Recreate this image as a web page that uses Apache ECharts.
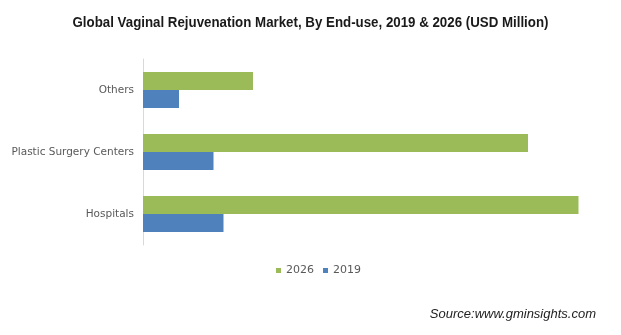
<!DOCTYPE html>
<html>
<head>
<meta charset="utf-8">
<script src="https://cdn.jsdelivr.net/npm/echarts@6/dist/echarts.min.js"></script>
<style>html,body{margin:0;padding:0;background:#fff;}#c{width:621px;height:335px;}</style>
</head>
<body>
<div id="c"></div>
<script>
var titleText = 'Global Vaginal Rejuvenation Market, By End-use, 2019 & 2026 (USD Million)';
var sourceText = 'Source:www.gminsights.com';
var categories = ['Hospitals', 'Plastic Surgery Centers', 'Others'];
var seriesNames = ['2026', '2019'];
var values2026 = [435.5, 385, 110];
var values2019 = [80.5, 70.5, 36];

var chart = echarts.init(document.getElementById('c'), null, {renderer: 'canvas'});
chart.setOption({
  animation: false,
  backgroundColor: '#fff',
  graphic: [{
    type: 'text',
    x: 310.5,
    y: 30.5,
    scaleX: 0.95,
    style: {text: titleText, font: "bold 14px 'Liberation Sans', Arial, sans-serif", fill: '#1a1a1a', align: 'center', verticalAlign: 'bottom'}
  }, {
    type: 'text',
    x: 596,
    y: 321,
    style: {text: sourceText, font: "italic 13px 'Liberation Sans', Arial, sans-serif", fill: '#222', align: 'right', verticalAlign: 'bottom'}
  }],
  legend: {
    data: seriesNames,
    left: 271,
    top: 260,
    itemWidth: 5,
    itemHeight: 5,
    itemGap: 9,
    icon: 'rect',
    textStyle: {fontFamily: "'DejaVu Sans',sans-serif", fontSize: 11, color: '#595959'}
  },
  grid: {left: 143, top: 59, bottom: 90, right: 28, containLabel: false},
  xAxis: {
    type: 'value', min: 0, max: 450,
    show: false,
    splitLine: {show: false}
  },
  yAxis: {
    type: 'category',
    data: categories,
    axisLine: {show: true, lineStyle: {color: '#d9d9d9', width: 1}},
    axisTick: {show: false},
    axisLabel: {margin: 9, fontFamily: "'DejaVu Sans',sans-serif", fontSize: 10.5, color: '#595959'}
  },
  series: [
    {name: seriesNames[0], type: 'bar', data: values2026, barWidth: 18, barGap: '0%', itemStyle: {color: '#9BBB59'}},
    {name: seriesNames[1], type: 'bar', data: values2019, barWidth: 18, barGap: '0%', itemStyle: {color: '#4F81BD'}}
  ]
});
</script>
</body>
</html>
